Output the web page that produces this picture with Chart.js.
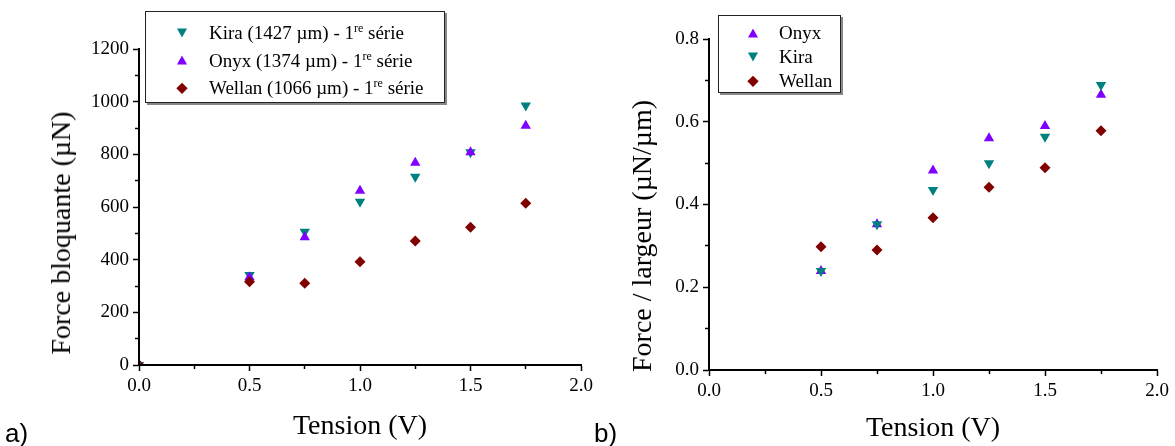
<!DOCTYPE html>
<html>
<head>
<meta charset="utf-8">
<script src="https://cdn.jsdelivr.net/npm/chart.js@4.4.1/dist/chart.umd.min.js"></script>
<style>
  html, body { margin: 0; padding: 0; background: #fff; }
  body { width: 1175px; height: 446px; position: relative; overflow: hidden;
         font-family: 'Liberation Serif', 'Times New Roman', serif; color: #000; }
  canvas { position: absolute; top: 0; }
  #chartA { left: 0; }
  #chartB { left: 600px; }
  .title { position: absolute; white-space: nowrap; line-height: 1; font-size: 28px;
           transform: translate(-50%, -50%); }
  .ytitle { transform: translate(-50%, -50%) rotate(-90deg); }
  .panel { position: absolute; font-family: 'Liberation Sans', Arial, sans-serif;
           font-size: 26px; line-height: 1; }
  .legend { position: absolute; background: #fff; border: 1px solid #222;
            box-shadow: 2px 2px 0 #888; font-size: 19px; box-sizing: border-box; }
  .row { position: relative; white-space: nowrap; }
  .row sup { font-size: 12px; vertical-align: 7px; line-height: 0; }
  .mk { position: absolute; top: 50%; width: 0; height: 0; transform: translate(-50%, -50%); }
  .mk.up { border-left: 5.5px solid transparent; border-right: 5.5px solid transparent;
           border-bottom: 9px solid currentColor; }
  .mk.down { border-left: 5.5px solid transparent; border-right: 5.5px solid transparent;
             border-top: 9px solid currentColor; }
  .mk.diamond { width: 7.5px; height: 7.5px; background: currentColor;
                transform: translate(-50%, -50%) rotate(45deg); }
</style>
</head>
<body>
<canvas id="chartA" width="600" height="446"></canvas>
<canvas id="chartB" width="575" height="446"></canvas>

<div class="title ytitle" style="left:61px; top:233px;">Force bloquante (µN)</div>
<div class="title" style="left:360px; top:425px;">Tension (V)</div>
<div class="title ytitle" style="left:642px; top:236px;">Force / largeur (µN/µm)</div>
<div class="title" style="left:933px; top:427px;">Tension (V)</div>
<div class="panel" style="left:5px; top:420px;">a)</div>
<div class="panel" style="left:594px; top:420px;">b)</div>

<div id="legendA" class="legend" style="left:145px; top:11px; width:300px; height:92px; padding-top:7px;"></div>
<div id="legendB" class="legend" style="left:718px; top:15px; width:123px; height:78px; padding-top:5px;"></div>

<script>
// (a) blocking force vs voltage
const voltsA = [0, 0.5, 0.75, 1.0, 1.25, 1.5, 1.75];
const kiraForce = [0, 342, 506, 620, 715, 808, 985];
const onyxForce = [0, 333, 485, 662, 768, 808, 909];
const wellanForce = [0, 316, 310, 392, 471, 523, 614];

// (b) force per width vs voltage
const voltsB = [0.5, 0.75, 1.0, 1.25, 1.5, 1.75];
const onyxPerWidth = [0.239, 0.352, 0.482, 0.560, 0.590, 0.665];
const kiraPerWidth = [0.239, 0.352, 0.435, 0.500, 0.564, 0.689];
const wellanPerWidth = [0.298, 0.290, 0.368, 0.4415, 0.489, 0.578];

const xTicks = [0, 0.5, 1.0, 1.5, 2.0];
const yTicksA = [0, 200, 400, 600, 800, 1000, 1200];
const yTicksB = [0, 0.2, 0.4, 0.6, 0.8];

const COLORS = { kira: "#008080", onyx: "#8000ff", wellan: "#800000" };
const FONT = "'Liberation Serif', 'Times New Roman', serif";

function points(xs, ys) {
  return xs.map((x, i) => ({ x, y: ys[i] }));
}

function isMajor(v, list) {
  return list.some((t) => Math.abs(t - v) < 1e-9);
}

// order: lower number is painted on top (Wellan last, like the original plot)
function series(label, xs, ys, color, shape, order) {
  return {
    label,
    order,
    data: points(xs, ys),
    pointStyle: shape === "diamond" ? "rectRot" : "triangle",
    rotation: shape === "down" ? 180 : 0,
    pointRadius: shape === "diamond" ? 5.5 : 6,
    backgroundColor: color,
    borderColor: color,
    borderWidth: 0,
    clip: 0
  };
}

// Origin-style axis: black spine, outward ticks, short minor ticks, no grid.
// Minor ticks are shortened with a dash pattern (left ticks run outer->axis,
// bottom ticks run axis->outer, hence the two patterns).
function axis(min, max, step, labels, decimals, fit, vertical) {
  const minorDash = vertical ? [0, 2, 4, 20] : [3, 20];
  const major = (c) => isMajor(c.tick ? c.tick.value : NaN, labels);
  return {
    type: "linear",
    min, max,
    afterFit: fit,
    grid: {
      drawOnChartArea: false,
      drawTicks: true,
      tickLength: 6,
      tickColor: "#000",
      tickWidth: 1.5,
      tickBorderDash: (c) => (major(c) ? [] : minorDash)
    },
    border: { display: true, color: "#000", width: 2 },
    ticks: {
      stepSize: step,
      autoSkip: false,
      maxRotation: 0,
      padding: 4,
      color: "#000",
      font: { family: FONT, size: 19 },
      callback: (v) => (isMajor(v, labels) ? Number(v).toFixed(decimals) : "")
    }
  };
}

// Draw the left/bottom spines on the chart area edges.
const spines = {
  id: "spines",
  afterDraw(chart) {
    const { ctx, chartArea: a } = chart;
    ctx.save();
    ctx.strokeStyle = "#000";
    ctx.lineWidth = 2;
    ctx.beginPath();
    ctx.moveTo(a.left, a.top);
    ctx.lineTo(a.left, a.bottom);
    ctx.lineTo(a.right, a.bottom);
    ctx.stroke();
    ctx.restore();
  }
};

function makeChart(id, datasets, xAxis, yAxis, padding) {
  return new Chart(document.getElementById(id), {
    type: "scatter",
    data: { datasets },
    plugins: [spines],
    options: {
      responsive: false,
      animation: false,
      events: [],
      layout: { autoPadding: false, padding },
      scales: { x: xAxis, y: yAxis },
      plugins: { legend: { display: false }, tooltip: { enabled: false } }
    }
  });
}

makeChart("chartA",
  [
    series("Kira", voltsA, kiraForce, COLORS.kira, "down", 3),
    series("Onyx", voltsA, onyxForce, COLORS.onyx, "up", 2),
    series("Wellan", voltsA, wellanForce, COLORS.wellan, "diamond", 1)
  ],
  axis(0, 2, 0.25, xTicks, 1, (s) => { s.height = 81; }, false),
  axis(0, 1200, 100, yTicksA, 0, (s) => { s.width = 139; }, true),
  { left: 0, top: 49, right: 19, bottom: 0 }
);

makeChart("chartB",
  [
    series("Onyx", voltsB, onyxPerWidth, COLORS.onyx, "up", 3),
    series("Kira", voltsB, kiraPerWidth, COLORS.kira, "down", 2),
    series("Wellan", voltsB, wellanPerWidth, COLORS.wellan, "diamond", 1)
  ],
  axis(0, 2, 0.25, xTicks, 1, (s) => { s.height = 76; }, false),
  axis(0, 0.8, 0.1, yTicksB, 1, (s) => { s.width = 109; }, true),
  { left: 0, top: 39, right: 18, bottom: 0 }
);

// HTML legends (to keep the superscript "re")
const legendA = [
  { shape: "down", color: COLORS.kira, html: "Kira (1427 µm) - 1<sup>re</sup> série" },
  { shape: "up", color: COLORS.onyx, html: "Onyx (1374 µm) - 1<sup>re</sup> série" },
  { shape: "diamond", color: COLORS.wellan, html: "Wellan (1066 µm) - 1<sup>re</sup> série" }
];
const legendB = [
  { shape: "up", color: COLORS.onyx, html: "Onyx" },
  { shape: "down", color: COLORS.kira, html: "Kira" },
  { shape: "diamond", color: COLORS.wellan, html: "Wellan" }
];

function buildLegend(id, items, rowH, markX, textX) {
  const box = document.getElementById(id);
  for (const it of items) {
    const row = document.createElement("div");
    row.className = "row";
    row.style.height = rowH + "px";
    row.style.lineHeight = rowH + "px";
    row.style.paddingLeft = textX + "px";
    const mk = document.createElement("span");
    mk.className = "mk " + it.shape;
    mk.style.color = it.color;
    mk.style.left = markX + "px";
    const label = document.createElement("span");
    label.innerHTML = it.html;
    row.appendChild(mk);
    row.appendChild(label);
    box.appendChild(row);
  }
}

buildLegend("legendA", legendA, 27.5, 36, 63);
buildLegend("legendB", legendB, 24, 34, 60);
</script>
</body>
</html>
